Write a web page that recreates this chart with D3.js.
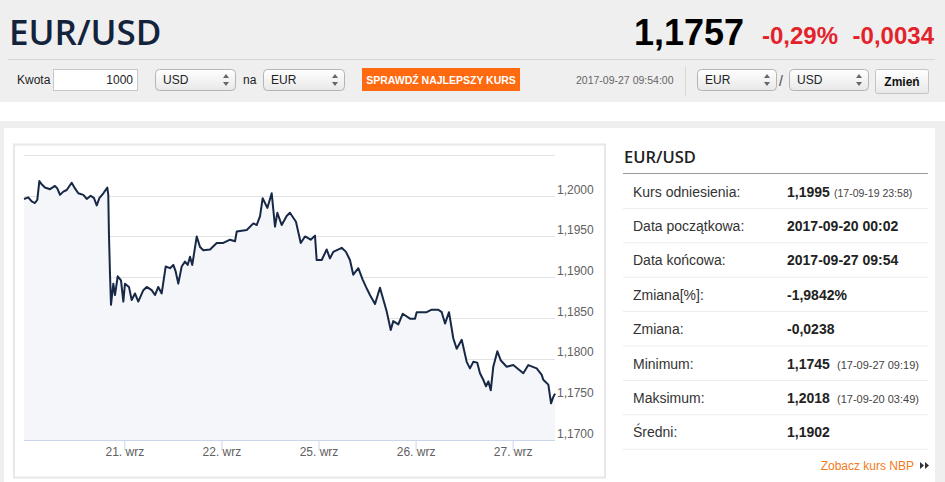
<!DOCTYPE html>
<html>
<head>
<meta charset="utf-8">
<script src="https://cdn.jsdelivr.net/npm/d3@7"></script>
<style>
  body { margin: 0; background: #fff; }
  svg { display: block; font-family: Arial, "Liberation Sans", sans-serif; }
</style>
</head>
<body>
<svg id="page" width="945" height="482"></svg>
<script>
// Quote header
const pair = 'EUR/USD';
const lastRate = '1,1757';
const changePct = '-0,29%';
const changeAbs = '-0,0034';
const quoteTime = '2017-09-27 09:54:00';

// Trading-day index (weekend removed): 0 = 20 wrz 00:00, 5 = 27 wrz 00:00
const days = [
  -0.033, 0.011, 0.046, 0.080, 0.104, 0.125, 0.149, 0.183, 0.235, 0.286,
  0.310, 0.338, 0.372, 0.407, 0.458, 0.492, 0.526, 0.578, 0.613, 0.654,
  0.688, 0.716, 0.743, 0.784, 0.825, 0.835, 0.842, 0.853, 0.863, 0.887,
  0.904, 0.932, 0.966, 0.990, 1.007, 1.048, 1.076, 1.110, 1.144, 1.196,
  1.231, 1.282, 1.316, 1.350, 1.385, 1.426, 1.471, 1.505, 1.529, 1.556,
  1.591, 1.625, 1.653, 1.677, 1.700, 1.746, 1.780, 1.814,
  1.883, 1.952, 2.020, 2.089, 2.140, 2.158, 2.261, 2.329, 2.364, 2.398,
  2.425, 2.473, 2.518, 2.552, 2.576, 2.621, 2.672, 2.706, 2.768, 2.817,
  2.861, 2.920, 2.964, 2.981, 3.033, 3.084, 3.118, 3.152, 3.239, 3.283,
  3.324, 3.358, 3.410, 3.455, 3.489, 3.530, 3.582, 3.633, 3.702, 3.744,
  3.770, 3.822, 3.867, 3.942, 3.994, 4.011, 4.114, 4.166, 4.234, 4.269,
  4.303, 4.344, 4.388, 4.423, 4.475, 4.526, 4.560, 4.594, 4.635, 4.663,
  4.697, 4.725, 4.749, 4.774, 4.800, 4.842, 4.876, 4.938, 5.006, 5.109,
  5.161, 5.247, 5.299, 5.315, 5.367, 5.395, 5.415, 5.436
];
const rates = [
  1.1996, 1.1998, 1.1993, 1.1991, 1.1995, 1.2018, 1.2014, 1.2010, 1.2008, 1.2012,
  1.2009, 1.2001, 1.2005, 1.2007, 1.2016, 1.2009, 1.2003, 1.2001, 1.1996, 1.2000,
  1.1997, 1.1988, 1.1997, 1.2003, 1.2010, 1.2001, 1.1952, 1.1903, 1.1866, 1.1892,
  1.1878, 1.1901, 1.1896, 1.1870, 1.1892, 1.1888, 1.1872, 1.1880, 1.1870, 1.1884,
  1.1888, 1.1884, 1.1878, 1.1888, 1.1880, 1.1913, 1.1911, 1.1915, 1.1907, 1.1892,
  1.1913, 1.1919, 1.1915, 1.1925, 1.1915, 1.1950, 1.1937, 1.1933,
  1.1934, 1.1942, 1.1942, 1.1946, 1.1944, 1.1956, 1.1958, 1.1966, 1.1964, 1.1975,
  1.1997, 1.1985, 1.2003, 1.1962, 1.1979, 1.1964, 1.1975, 1.1979, 1.1968, 1.1942,
  1.1950, 1.1946, 1.1951, 1.1921, 1.1921, 1.1934, 1.1923, 1.1931, 1.1936, 1.1931,
  1.1921, 1.1903, 1.1911, 1.1897, 1.1888, 1.1878, 1.1867, 1.1887, 1.1858, 1.1835,
  1.1846, 1.1842, 1.1855, 1.1849, 1.1849, 1.1857, 1.1857, 1.1860, 1.1860, 1.1857,
  1.1843, 1.1857, 1.1825, 1.1812, 1.1823, 1.1796, 1.1788, 1.1796, 1.1795, 1.1782,
  1.1774, 1.1766, 1.1772, 1.1761, 1.1790, 1.1809, 1.1798, 1.1790, 1.1792, 1.1782,
  1.1792, 1.1788, 1.1780, 1.1774, 1.1768, 1.1745, 1.1752, 1.1757
];

const dayTicks = [1, 2, 3, 4, 5];
const dayLabels = ['21. wrz', '22. wrz', '25. wrz', '26. wrz', '27. wrz'];
const rateTicks = [1.170, 1.175, 1.180, 1.185, 1.190, 1.195, 1.200, 1.205];

// Stats table
const statLabels = ['Kurs odniesienia:', 'Data początkowa:', 'Data końcowa:', 'Zmiana[%]:',
  'Zmiana:', 'Minimum:', 'Maksimum:', 'Średni:'];
const statValues = ['1,1995', '2017-09-20 00:02', '2017-09-27 09:54', '-1,9842%',
  '-0,0238', '1,1745', '1,2018', '1,1902'];
const statNotes = ['(17-09-19 23:58)', '', '', '', '', '(17-09-27 09:19)', '(17-09-20 03:49)', ''];

const svg = d3.select('#page');
const defs = svg.append('defs');

const selGrad = defs.append('linearGradient').attr('id', 'sel').attr('x1', 0).attr('y1', 0).attr('x2', 0).attr('y2', 1);
selGrad.append('stop').attr('offset', '0%').attr('stop-color', '#ffffff');
selGrad.append('stop').attr('offset', '100%').attr('stop-color', '#e8e8e8');

// ---- header band ----
svg.append('rect').attr('x', 0).attr('y', 0).attr('width', 945).attr('height', 102).attr('fill', '#efefef');

svg.append('text').attr('x', 9).attr('y', 45)
  .attr('font-family', '"Open Sans", sans-serif').attr('font-weight', 600).attr('font-size', 35)
  .attr('fill', '#14233c').text(pair);

svg.append('text').attr('x', 744).attr('y', 45).attr('text-anchor', 'end')
  .attr('font-weight', 'bold').attr('font-size', 36).attr('fill', '#000').text(lastRate);
svg.append('text').attr('x', 838).attr('y', 44).attr('text-anchor', 'end')
  .attr('font-weight', 'bold').attr('font-size', 24).attr('fill', '#e3232b').text(changePct);
svg.append('text').attr('x', 934).attr('y', 44).attr('text-anchor', 'end')
  .attr('font-weight', 'bold').attr('font-size', 24).attr('fill', '#e3232b').text(changeAbs);

svg.append('line').attr('x1', 8).attr('x2', 935).attr('y1', 59.5).attr('y2', 59.5).attr('stroke', '#d6d6d6');

// form row
function label(x, y, txt, opts = {}) {
  return svg.append('text').attr('x', x).attr('y', y)
    .attr('font-size', opts.size || 12).attr('fill', opts.fill || '#222')
    .attr('font-weight', opts.weight || 'normal')
    .attr('text-anchor', opts.anchor || 'start').text(txt);
}

function selectBox(x, y, w, txt) {
  const g = svg.append('g').attr('transform', `translate(${x},${y})`);
  g.append('rect').attr('x', 0.5).attr('y', 0.5).attr('width', w).attr('height', 21).attr('rx', 4)
    .attr('fill', 'url(#sel)').attr('stroke', '#b4b4b4');
  g.append('text').attr('x', 8).attr('y', 15).attr('font-size', 12).attr('fill', '#222').text(txt);
  const ax = w - 9;
  g.append('path').attr('d', `M${ax - 3},9 L${ax + 3},9 L${ax},5 Z`).attr('fill', '#666');
  g.append('path').attr('d', `M${ax - 3},13 L${ax + 3},13 L${ax},17 Z`).attr('fill', '#666');
}

label(17, 84, 'Kwota');
svg.append('rect').attr('x', 53.5).attr('y', 69.5).attr('width', 84).attr('height', 21)
  .attr('fill', '#fff').attr('stroke', '#c8c8c8');
label(133, 84, '1000', { anchor: 'end' });
selectBox(155, 69, 80, 'USD');
label(243, 84, 'na');
selectBox(263, 69, 81, 'EUR');

svg.append('rect').attr('x', 362).attr('y', 68).attr('width', 158).attr('height', 23).attr('fill', '#ff6a10');
label(441, 83.5, 'SPRAWDŹ NAJLEPSZY KURS', { anchor: 'middle', size: 10.5, weight: 'bold', fill: '#fff' });

label(576, 84, quoteTime, { size: 10.5, fill: '#666' });
svg.append('line').attr('x1', 685.5).attr('x2', 685.5).attr('y1', 67).attr('y2', 96).attr('stroke', '#d8d8d8');
selectBox(697, 69, 79, 'EUR');
label(779, 86, '/', { size: 14, fill: '#444' });
selectBox(789, 69, 79, 'USD');

svg.append('rect').attr('x', 875.5).attr('y', 69.5).attr('width', 53).attr('height', 24).attr('rx', 2)
  .attr('fill', 'url(#sel)').attr('stroke', '#c4c4c4');
label(902, 86, 'Zmień', { anchor: 'middle', weight: 'bold', size: 12, fill: '#111' });

// ---- content frame ----
svg.append('rect').attr('x', 0).attr('y', 121).attr('width', 945).attr('height', 7).attr('fill', '#efefef');
svg.append('rect').attr('x', 0).attr('y', 121).attr('width', 4).attr('height', 361).attr('fill', '#efefef');
svg.append('rect').attr('x', 935).attr('y', 121).attr('width', 10).attr('height', 361).attr('fill', '#efefef');

// chart box
svg.append('rect').attr('x', 14).attr('y', 144.5).attr('width', 591).attr('height', 333)
  .attr('fill', '#fff').attr('stroke', '#e8e8e8').attr('stroke-width', 2);

// ---- chart ----
const x = d3.scaleLinear().domain([1, 5]).range([124.3, 512.7]);
const y = d3.scaleLinear().domain([1.170, 1.205]).range([440, 155]);
const plotLeft = 24, plotRight = 555;
const fmt = d => d3.format('.4f')(d).replace('.', ',');

const series = days.map((d, i) => ({ t: d, v: rates[i] }));

// grid lines
svg.append('g').selectAll('line').data(rateTicks.slice(1)).join('line')
  .attr('x1', plotLeft).attr('x2', plotRight)
  .attr('y1', d => Math.round(y(d)) + 0.5).attr('y2', d => Math.round(y(d)) + 0.5)
  .attr('stroke', '#e3e3e3');

// area + line
svg.append('path').datum(series)
  .attr('fill', '#f4f6f9')
  .attr('d', d3.area().x(d => x(d.t)).y0(y(1.170)).y1(d => y(d.v)));

svg.append('path').datum(series)
  .attr('fill', 'none').attr('stroke', '#172846').attr('stroke-width', 2)
  .attr('stroke-linejoin', 'round')
  .attr('d', d3.line().x(d => x(d.t)).y(d => y(d.v)));

// x axis
const xAxis = d3.axisBottom(x).tickValues(dayTicks).tickSize(10).tickSizeOuter(0)
  .tickFormat((d, i) => dayLabels[i]);
const gx = svg.append('g').attr('transform', `translate(0,${y(1.170) + 0.5})`).call(xAxis);
gx.select('.domain').attr('d', `M${plotLeft},0H${plotRight}`).attr('stroke', '#ccd6eb');
gx.selectAll('.tick line').attr('stroke', '#ccd6eb');
gx.selectAll('.tick text').attr('font-size', 12).attr('fill', '#606060')
  .attr('font-family', 'Arial, "Liberation Sans", sans-serif').attr('dy', '0.2em');

// y axis labels (right side)
const yAxis = d3.axisRight(y).tickValues(rateTicks.slice(0, -1)).tickSize(0).tickPadding(0).tickFormat(fmt);
const gy = svg.append('g').attr('transform', `translate(${plotRight + 2},0)`).call(yAxis);
gy.select('.domain').remove();
gy.selectAll('.tick text').attr('font-size', 12).attr('fill', '#606060')
  .attr('font-family', 'Arial, "Liberation Sans", sans-serif').attr('dy', '-0.22em');

// ---- stats table ----
const tableX = 623, tableW = 305, rowTop = 173.5, rowH = 34.4;
svg.append('text').attr('x', 624).attr('y', 163)
  .attr('font-family', '"Open Sans", sans-serif').attr('font-weight', 600).attr('font-size', 16.5)
  .attr('fill', '#222').text(pair);
svg.append('line').attr('x1', tableX).attr('x2', tableX + tableW).attr('y1', rowTop).attr('y2', rowTop)
  .attr('stroke', '#9a9a9a');

const rows = svg.append('g').selectAll('g').data(statLabels).join('g')
  .attr('transform', (d, i) => `translate(0,${rowTop + i * rowH})`);
rows.append('text').attr('x', 633).attr('y', 23).attr('font-size', 14).attr('fill', '#333').text(d => d);
rows.append('text').attr('x', 787).attr('y', 23).attr('font-size', 14).attr('font-weight', 'bold')
  .attr('fill', '#222').text((d, i) => statValues[i]);
rows.append('text').attr('x', (d, i) => i === 0 ? 834 : 837).attr('y', 23)
  .attr('font-size', (d, i) => i === 0 ? 10.5 : 11).attr('fill', '#444')
  .text((d, i) => statNotes[i]);
rows.append('line').attr('x1', tableX).attr('x2', tableX + tableW)
  .attr('y1', rowH + 0.5).attr('y2', rowH + 0.5).attr('stroke', '#ebebeb');

svg.append('text').attr('x', 914).attr('y', 470).attr('text-anchor', 'end')
  .attr('font-size', 12).attr('fill', '#f47a20').text('Zobacz kurs NBP');
svg.append('path').attr('d', 'M920,462 L924,465.5 L920,469 Z M925,462 L929,465.5 L925,469 Z').attr('fill', '#333');
</script>
</body>
</html>
